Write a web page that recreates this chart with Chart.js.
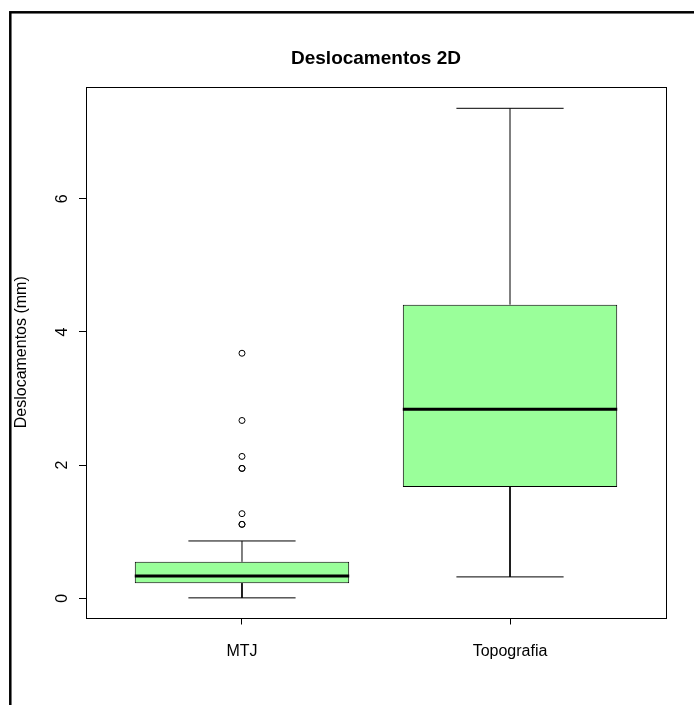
<!DOCTYPE html>
<html>
<head>
<meta charset="utf-8">
<script src="https://cdn.jsdelivr.net/npm/chart.js@4/dist/chart.umd.min.js"></script>
<style>
  html,body{margin:0;padding:0;background:#fff;}
  canvas{display:block;}
</style>
</head>
<body>
<canvas id="chart" width="694" height="705"></canvas>
<script>
// ── DATA ─────────────────────────────────────────────────
const categories = ['MTJ', 'Topografia'];
const lowerWhisker = [0.005, 0.32];
const q1 = [0.226, 1.67];
const median = [0.335, 2.84];
const q3 = [0.546, 4.41];
const upperWhisker = [0.86, 7.36];
const outliersMTJ = [3.68, 2.67, 2.13, 1.95, 1.95, 1.27, 1.11, 1.11];
const yTicks = [0, 2, 4, 6];

// ── STYLE ────────────────────────────────────────────────
const FONT = '"Liberation Sans", Arial, Helvetica, sans-serif';
const BOX_FILL = '#9AFF9A';
const BOX_HALF = 0.4;   // box half width (category units)
const CAP_HALF = 0.2;   // whisker staple half width

Chart.defaults.font.family = FONT;
Chart.defaults.font.size = 16;
Chart.defaults.color = '#000';

const xPos = categories.map((c, i) => i + 1);

// whisker segments, broken with null points
const whiskerPts = [];
xPos.forEach((x, i) => {
    whiskerPts.push({x, y: q3[i]}, {x, y: upperWhisker[i]}, {x, y: null});
    whiskerPts.push({x: x - CAP_HALF, y: upperWhisker[i]}, {x: x + CAP_HALF, y: upperWhisker[i]}, {x, y: null});
    whiskerPts.push({x, y: q1[i]}, {x, y: lowerWhisker[i]}, {x, y: null});
    whiskerPts.push({x: x - CAP_HALF, y: lowerWhisker[i]}, {x: x + CAP_HALF, y: lowerWhisker[i]}, {x, y: null});
});

const medianPts = [];
xPos.forEach((x, i) => {
    medianPts.push({x: x - BOX_HALF, y: median[i]}, {x: x + BOX_HALF, y: median[i]}, {x, y: null});
});

// R-style frame round the plot region + outer border
const framePlugin = {
    id: 'frame',
    afterDraw(chart) {
        const {ctx, chartArea: a} = chart;
        ctx.save();
        ctx.strokeStyle = '#000';
        ctx.lineWidth = 1;
        ctx.strokeRect(Math.round(a.left) + 0.5, Math.round(a.top) + 0.5,
            Math.round(a.right - a.left), Math.round(a.bottom - a.top));
        ctx.lineWidth = 2.5;
        ctx.strokeRect(10.3, 12.3, 1000, 1000);
        ctx.restore();
    }
};

new Chart(document.getElementById('chart'), {
    type: 'bar',
    data: {
        datasets: [
            {
                type: 'line', label: 'median', data: medianPts, order: 0,
                borderColor: '#000', borderWidth: 3, pointRadius: 0, spanGaps: false
            },
            {
                type: 'scatter', label: 'outliers', order: 1,
                data: outliersMTJ.map(v => ({x: xPos[0], y: v})),
                pointStyle: 'circle', pointRadius: 3, pointBorderWidth: 1,
                pointBackgroundColor: 'rgba(0,0,0,0)', pointBorderColor: '#000'
            },
            {
                type: 'line', label: 'whiskers', data: whiskerPts, order: 2,
                borderColor: '#000', borderWidth: 1, pointRadius: 0, spanGaps: false
            },
            {
                type: 'bar', label: 'box', order: 3,
                data: xPos.map((x, i) => ({x, y: [q1[i], q3[i]]})),
                backgroundColor: BOX_FILL, borderColor: '#000', borderWidth: 1,
                borderSkipped: false, barPercentage: BOX_HALF * 2, categoryPercentage: 1
            }
        ]
    },
    options: {
        responsive: false,
        animation: false,
        layout: {padding: {left: 9, right: 28, top: 0, bottom: 0}},
        plugins: {
            legend: {display: false},
            tooltip: {enabled: false},
            title: {
                display: true, text: 'Deslocamentos 2D', fullSize: false,
                font: {size: 19, weight: 'bold'}, color: '#000',
                padding: {top: 47, bottom: 17.2}
            }
        },
        scales: {
            x: {
                type: 'linear', min: 0.418, max: 2.582, offset: false,
                afterBuildTicks: s => { s.ticks = xPos.map(v => ({value: v})); },
                afterFit: s => { s.height = 87.5; },
                ticks: {callback: v => categories[v - 1], padding: 17, maxRotation: 0, autoSkip: false},
                grid: {offset: false, drawOnChartArea: false, drawTicks: true, tickLength: 7, color: '#000'},
                border: {display: false}
            },
            y: {
                type: 'linear', min: -0.29, max: 7.68,
                afterBuildTicks: s => { s.ticks = yTicks.map(v => ({value: v})); },
                afterFit: s => { s.width = 77; },
                ticks: {minRotation: 90, maxRotation: 90, crossAlign: 'center', padding: 11.5},
                grid: {drawOnChartArea: false, drawTicks: true, tickLength: 7, color: '#000'},
                border: {display: false},
                title: {display: true, text: 'Deslocamentos (mm)', padding: {top: 3.4, bottom: 0}}
            }
        }
    },
    plugins: [framePlugin]
});
</script>
</body>
</html>
